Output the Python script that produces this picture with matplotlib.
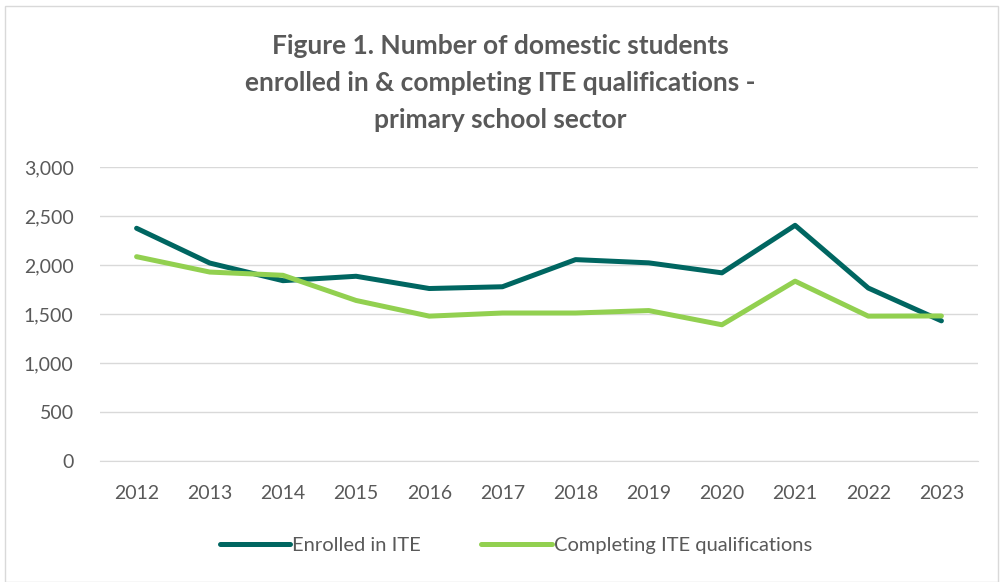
import matplotlib.pyplot as plt
import numpy as np
from matplotlib.patches import Rectangle
from matplotlib.ticker import FuncFormatter

years = ["2012", "2013", "2014", "2015", "2016", "2017",
         "2018", "2019", "2020", "2021", "2022", "2023"]
enrolled = [2375, 2020, 1840, 1885, 1760, 1778, 2055, 2022, 1920, 2405, 1765, 1430]
completing = [2085, 1928, 1895, 1638, 1478, 1510, 1510, 1535, 1390, 1835, 1478, 1480]

TEAL = "#006661"
GREEN = "#92d050"
GREY_TXT = "#595959"

plt.rcParams["font.family"] = ["Lato", "DejaVu Sans"]

fig = plt.figure(figsize=(10, 5.82), dpi=100)
ax = fig.add_axes([0.1, 0.208, 0.878, 0.505])

x = np.arange(len(years))
ax.plot(x, enrolled, color=TEAL, lw=3.6, solid_capstyle="round", label="Enrolled in ITE")
ax.plot(x, completing, color=GREEN, lw=3.6, solid_capstyle="round",
        label="Completing ITE qualifications")

ax.set_xlim(-0.5, len(years) - 0.5)
ax.set_ylim(0, 3000)
ax.set_yticks(range(0, 3001, 500))
ax.yaxis.set_major_formatter(FuncFormatter(lambda v, _: f"{int(v):,}"))
ax.set_xticks(x)
ax.set_xticklabels(years)
ax.grid(axis="y", color="#d9d9d9", lw=1)
ax.set_axisbelow(True)
for s in ["top", "right", "left"]:
    ax.spines[s].set_visible(False)
ax.spines["bottom"].set_color("#d9d9d9")
ax.tick_params(length=0, labelsize=14, labelcolor=GREY_TXT)
ax.tick_params(axis="x", pad=17)
ax.tick_params(axis="y", pad=19)

fig.text(0.5, 0.857, "Figure 1. Number of domestic students\n"
         "enrolled in & completing ITE qualifications -\n"
         "primary school sector",
         ha="center", va="center", fontsize=19, fontweight="bold",
         color=GREY_TXT, linespacing=1.65)

fig.legend(loc="center", bbox_to_anchor=(0.516, 0.063), ncol=2, frameon=False,
           fontsize=14.5, labelcolor=GREY_TXT, handlelength=3.5, handletextpad=0.1,
           columnspacing=3.0)

fig.patches.append(Rectangle((0.005, 0.0), 0.993, 0.99, transform=fig.transFigure,
                             fill=False, edgecolor="#d9d9d9", lw=1))

fig.savefig("out.png", dpi=100)
